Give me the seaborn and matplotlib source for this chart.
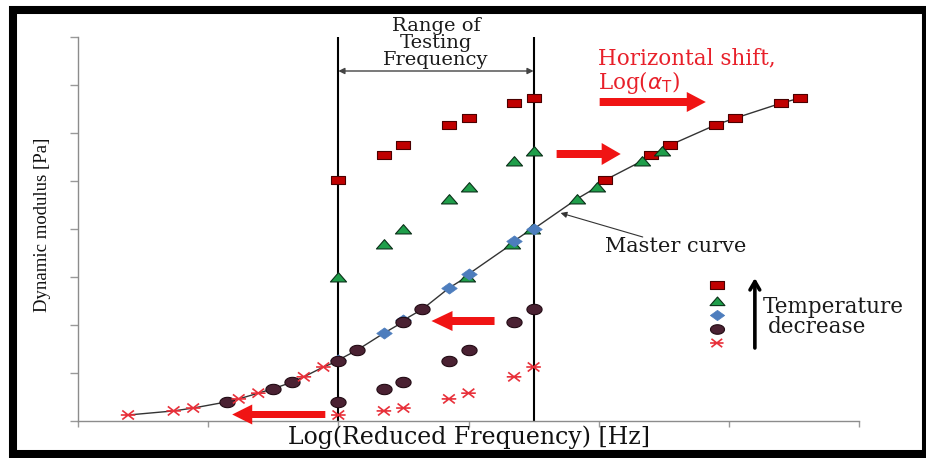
import numpy as np
import pandas as pd
import matplotlib
matplotlib.use("Agg")
import matplotlib.pyplot as plt
from matplotlib.path import Path
from matplotlib.markers import MarkerStyle
from matplotlib.patches import Rectangle, FancyArrow
import seaborn as sns

# ---------------- data ----------------
test_freq = [2.0, 2.35, 2.5, 2.85, 3.0, 3.35, 3.5]          # log frequency (arbitrary units)
mod_square = [5.02, 5.54, 5.75, 6.17, 6.31, 6.62, 6.73]
mod_triangle = [3.0, 3.69, 4.0, 4.63, 4.87, 5.42, 5.63]
mod_diamond = [1.27, 1.83, 2.1, 2.77, 3.06, 3.75, 4.0]
mod_circle = [0.40, 0.67, 0.81, 1.25, 1.48, 2.06, 2.33]
mod_star = [0.125, 0.21, 0.27, 0.46, 0.58, 0.92, 1.125]
series_names = ["square", "triangle", "diamond", "circle", "star"]
shift_factors = [2.05, 0.985, 0.0, -0.854, -1.615]           # log(aT)

x_label = "Log(Reduced Frequency) [Hz]"
y_label = "Dynamic modulus [Pa]"

# ---------------- styles ----------------
def ellipse_verts(ry=0.68, n=40):
    t = np.linspace(0, 2 * np.pi, n)
    return list(zip(np.cos(t), ry * np.sin(t)))

rect_m = MarkerStyle(Path([(-1, -0.6), (1, -0.6), (1, 0.6), (-1, 0.6), (-1, -0.6)], closed=True))
tri_m = MarkerStyle(Path([(-1, -0.55), (1, -0.55), (0, 0.6), (-1, -0.55)], closed=True))
dia_m = MarkerStyle(Path([(-1, 0), (0, 0.72), (1, 0), (0, -0.72), (-1, 0)], closed=True))
ell_m = MarkerStyle(Path(ellipse_verts()))
star_path = Path([(-1, 0), (1, 0), (-0.8, -0.62), (0.8, 0.62), (-0.8, 0.62), (0.8, -0.62)],
                 [Path.MOVETO, Path.LINETO, Path.MOVETO, Path.LINETO, Path.MOVETO, Path.LINETO])
star_m = MarkerStyle(star_path)

styles = {
    "square": dict(marker=rect_m, s=110, color="#c00000", edgecolor="#4a0000", linewidth=0.8),
    "triangle": dict(marker=tri_m, s=135, color="#1f9e4a", edgecolor="#0a3018", linewidth=0.8),
    "diamond": dict(marker=dia_m, s=125, color="#4d7dbd", edgecolor="#4d7dbd", linewidth=0.5),
    "circle": dict(marker=ell_m, s=120, color="#4a2132", edgecolor="#220b14", linewidth=0.8),
    "star": dict(marker=star_m, s=110, color="#e8303a", facecolor="none", edgecolor="#e8303a", linewidth=1.2),
}

values = {"square": mod_square, "triangle": mod_triangle, "diamond": mod_diamond,
          "circle": mod_circle, "star": mod_star}

rows = []
for name, sh in zip(series_names, shift_factors):
    for f, m in zip(test_freq, values[name]):
        rows.append(dict(series=name, freq=f, modulus=m, shifted=f + sh))
df = pd.DataFrame(rows)

# ---------------- figure ----------------
sns.set_style("ticks")
plt.rcParams["font.family"] = ["DejaVu Serif", "DejaVu Sans"]

fig = plt.figure(figsize=(9.26, 4.58), dpi=100)
W, H = 926, 458
ax = fig.add_axes([78 / W, (H - 421) / H, (859 - 78) / W, (421 - 37) / H])
ax.set_xlim(0, 6)
ax.set_ylim(0, 8)

# master curve through shifted points
master = df.sort_values("shifted")
sns.lineplot(data=master, x="shifted", y="modulus", sort=True, estimator=None,
             color="#333333", linewidth=1.0, ax=ax, zorder=2)

# testing frequency range lines
ax.vlines([test_freq[0], test_freq[-1]], 0, 8, color="black", linewidth=1.5, zorder=1)

for name in series_names:
    sub = df[df.series == name]
    st = dict(styles[name])
    # measured points (testing range)
    sns.scatterplot(x=sub["freq"], y=sub["modulus"], ax=ax, zorder=3, legend=False, **st)
    # shifted points on master curve
    if name != "diamond":
        sns.scatterplot(x=sub["shifted"], y=sub["modulus"], ax=ax, zorder=3, legend=False, **st)

# axes styling
sns.despine(ax=ax)
ax.set_xticks(range(7))
ax.set_yticks(range(9))
ax.set_xticklabels([])
ax.set_yticklabels([])
ax.tick_params(axis="x", bottom=True, direction="out", length=4, color="#999999", width=1)
ax.tick_params(axis="y", left=True, direction="out", length=6, color="#999999", width=1)
for sp in ["left", "bottom"]:
    ax.spines[sp].set_color("#8c8c8c")
    ax.spines[sp].set_linewidth(1.0)

ax.set_xlabel(x_label, fontsize=17, family=["DejaVu Serif"], color="#111111")
ax.xaxis.set_label_coords(0.5, -(437 - 421) / 384)
ax.xaxis.label.set_va("center")
ax.set_ylabel(y_label, fontsize=13.5, family=["Liberation Serif"], color="#111111")
ax.yaxis.set_label_coords((43 - 78) / 781, (421 - 225) / 384)
ax.yaxis.label.set_va("center")

# helpers for pixel -> data
def dx(px):
    return (px - 78) / 130.0

def dy(py):
    return (421 - py) / 48.0

# range annotation
ax.annotate("", xy=(test_freq[0], dy(71)), xytext=(test_freq[-1], dy(71)),
            arrowprops=dict(arrowstyle="<|-|>", color="#444444", lw=1.0,
                            mutation_scale=9, shrinkA=0, shrinkB=0), annotation_clip=False)
ax.text((test_freq[0] + test_freq[-1]) / 2, dy(43), "Range of\nTesting\nFrequency",
        ha="center", va="center", fontsize=14, linespacing=0.9, color="#1a1a1a")

# horizontal shift label
ax.text(dx(597), dy(71.5), "Horizontal shift,\nLog($\\alpha_{\\mathrm{T}}$)", ha="left", va="center",
        fontsize=15.5, color="#e8202a", linespacing=0.95)

# red shift arrows (horizontal)
red = "#f01414"
def harrow(x0px, x1px, ypx, body=8, head=21, hlen=20):
    L = dx(x1px) - dx(x0px)
    a = FancyArrow(dx(x0px), dy(ypx), L, 0, width=body / 48.0, head_width=head / 48.0,
                   head_length=hlen / 130.0, length_includes_head=True,
                   color=red, linewidth=0, zorder=4, clip_on=False)
    ax.add_patch(a)

harrow(599, 705, 102, body=8, head=20, hlen=19)
harrow(556, 620, 154, body=8, head=22, hlen=19)
harrow(494, 431, 321, body=8, head=20, hlen=21)
harrow(325, 232, 414.5, body=7, head=20, hlen=20)

# master curve pointer
ax.annotate("", xy=(dx(560), dy(213)), xytext=(dx(642), dy(237)),
            arrowprops=dict(arrowstyle="-|>", color="#333333", lw=0.8,
                            mutation_scale=9, shrinkA=0, shrinkB=0))
ax.text(dx(675), dy(247), "Master curve", ha="center", va="center", fontsize=15, color="#1a1a1a")

# legend markers
leg_y = [285, 301, 315, 329, 343]
for name, ypx in zip(series_names, leg_y):
    st = dict(styles[name])
    st["s"] = st["s"] * 0.85
    ax.scatter([dx(716)], [dy(ypx)], zorder=5, clip_on=False, **st)

ax.annotate("", xy=(dx(754), dy(278)), xytext=(dx(754), dy(348)),
            arrowprops=dict(arrowstyle="->,head_width=0.35,head_length=0.6", color="black",
                            lw=2.6, shrinkA=0, shrinkB=0))
ax.text(dx(762), dy(307), "Temperature", ha="left", va="center", fontsize=15.5, color="#1a1a1a")
ax.text(dx(767), dy(327), "decrease", ha="left", va="center", fontsize=15.5, color="#1a1a1a")

# outer black frame
frame = Rectangle((13 / W, (H - 454) / H), (926.5 - 13) / W, (454 - 9.5) / H,
                  transform=fig.transFigure, fill=False, edgecolor="black",
                  linewidth=5.8, clip_on=False)
fig.patches.append(frame)

fig.savefig("out.png", dpi=100)
